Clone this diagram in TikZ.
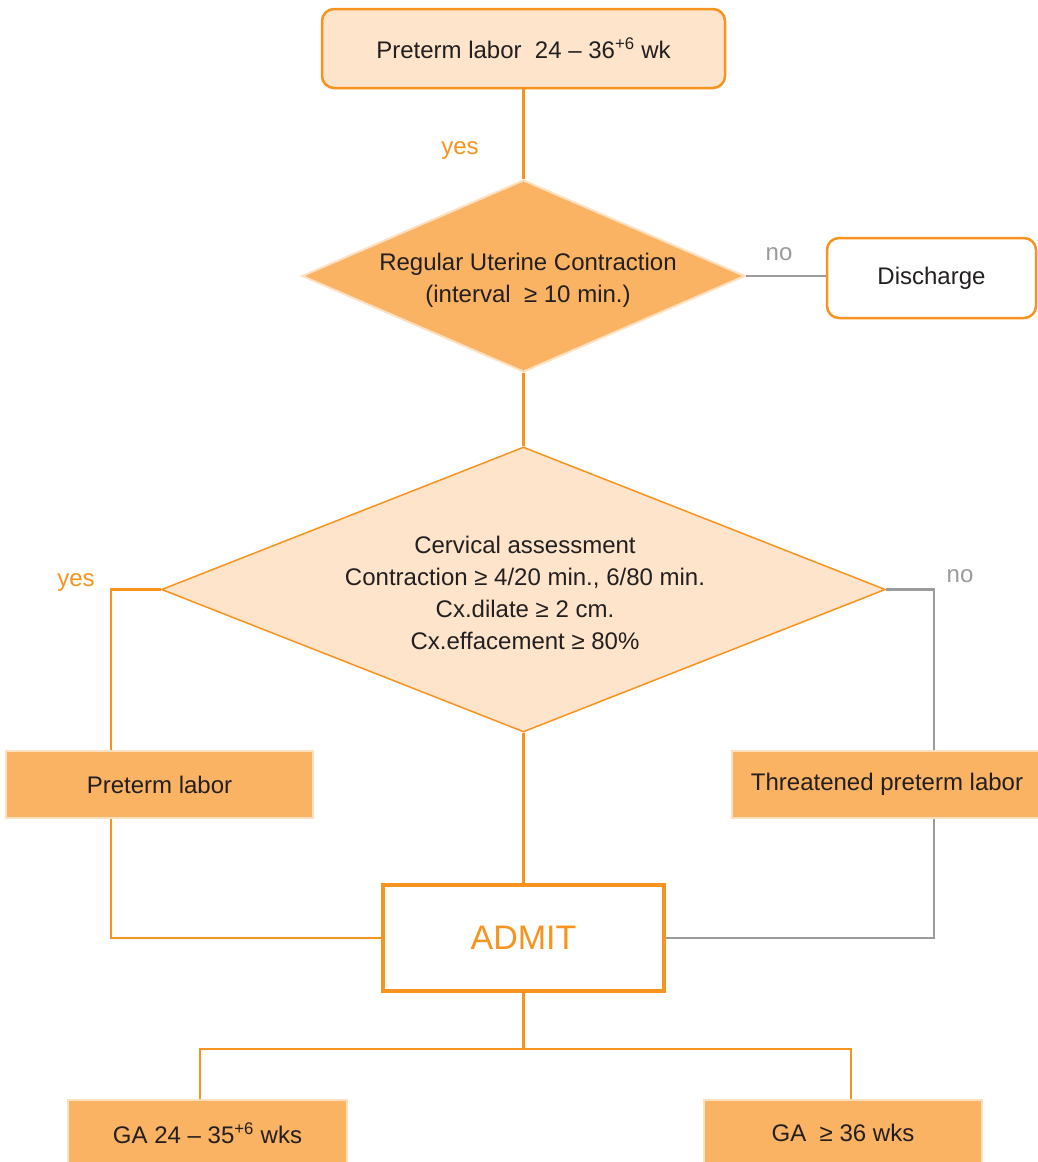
\documentclass[tikz,border=0pt]{standalone}
\usepackage{fontspec}
\setmainfont{Liberation Sans}
\usetikzlibrary{shapes.geometric}
\definecolor{org}{HTML}{F7931E}
\definecolor{darkfill}{HTML}{FAB263}
\definecolor{lightfill}{HTML}{FDE4CA}
\definecolor{lightedge}{HTML}{FDE0C0}
\definecolor{grayline}{HTML}{9B9B9B}
\definecolor{txt}{HTML}{231F20}
\begin{document}
\begin{tikzpicture}[x=1pt,y=-1pt,
  every node/.style={font=\fontsize{24}{32}\selectfont, text=txt},
  roundbox/.style={rectangle, rounded corners=12pt, inner sep=0pt, line width=2.5pt, draw=org},
  darkbox/.style={rectangle, inner sep=0pt, fill=darkfill, draw=lightedge, line width=2pt},
  admitbox/.style={rectangle, inner sep=0pt, fill=white, draw=org, line width=4pt, text=org, font=\fontsize{34}{40}\selectfont},
  dmd/.style={diamond, inner sep=0pt},
  oline/.style={draw=org, line width=2.5pt},
  gline/.style={draw=grayline, line width=2.5pt},
  olabel/.style={text=org},
  glabel/.style={text=grayline},
  txtnode/.style={align=center, inner sep=0pt}
]
\useasboundingbox (0,0) rectangle (1037,1162);
\fill[white] (0,0) rectangle (1037,1162);

% nodes
\node[roundbox, fill=lightfill, minimum width=403pt, minimum height=79pt] (top) at (523.5,48.5) {Preterm labor\ \ 24 -- 36\textsuperscript{+6} wk};

\node[dmd, fill=darkfill, draw=lightedge, line width=2pt, minimum width=443pt, minimum height=192pt] (d1) at (523.5,276) {};
\node[txtnode] (d1t) at (528,280) {Regular Uterine Contraction\\(interval\ \ ≥ 10 min.)};

\node[roundbox, fill=white, minimum width=209pt, minimum height=80pt] (dis) at (931.5,278) {Discharge};

\node[dmd, fill=lightfill, draw=org, line width=1.5pt, minimum width=724pt, minimum height=285pt] (d2) at (523.5,589.5) {};
\node[txtnode] (d2t) at (525,593) {Cervical assessment\\Contraction ≥ 4/20 min., 6/80 min.\\Cx.dilate ≥ 2 cm.\\Cx.effacement ≥ 80\%};

\node[darkbox, minimum width=307pt, minimum height=67pt] (pl) at (159.5,784.5) {Preterm labor};
\node[darkbox, minimum width=310pt, minimum height=67pt] (th) at (887,784.5) {Threatened preterm labor};

\node[admitbox, minimum width=281pt, minimum height=106pt] (adm) at (523.5,938) {ADMIT};

\node[darkbox, minimum width=279pt, minimum height=66pt] (ga1) at (207.5,1133) {GA 24 -- 35\textsuperscript{+6} wks};
\node[darkbox, minimum width=278pt, minimum height=66pt] (ga2) at (843,1133) {GA\ \ ≥ 36 wks};

% helper coordinates
\coordinate (lx) at (111,0);
\coordinate (rx) at (934,0);
\coordinate (b1) at (200,1049);
\coordinate (b2) at (851,1049);
\coordinate (bj) at (523.5,1049);

% connectors
\draw[oline] (top.south) -- (d1.north);
\draw[gline] (d1.east) -- (d1.east -| dis.west);
\draw[oline] (d1.south) -- (d2.north);
\draw[oline] (d2.west) -| (pl.north -| lx);
\draw[oline] (pl.south -| lx) |- (adm.west);
\draw[gline] (d2.east) -| (th.north -| rx);
\draw[gline] (th.south -| rx) |- (adm.east);
\draw[oline] (d2.south) -- (adm.north);
\draw[oline] (adm.south) -- (bj);
\draw[oline] (ga1.north -| b1) |- (b2) -- (ga2.north -| b2);

% labels
\node[olabel] (lyes1) at (460,151) {yes};
\node[glabel] (lno1) at (779,254) {no};
\node[olabel] (lyes2) at (76,583) {yes};
\node[glabel] (lno2) at (960,576) {no};
\end{tikzpicture}
\end{document}
